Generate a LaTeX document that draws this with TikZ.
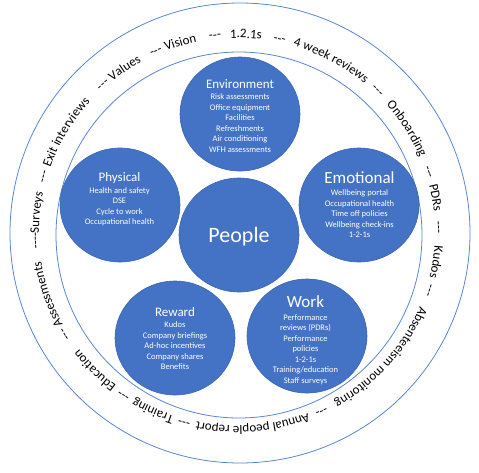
\documentclass[tikz,border=0pt]{standalone}
\usepackage{fontspec}
\setmainfont{Carlito}
\usetikzlibrary{shapes.geometric,decorations.text}

\definecolor{bubblue}{HTML}{4472C4}
\definecolor{bubedge}{HTML}{3B65B0}
\definecolor{ringblue}{HTML}{5A86D0}
\newcommand\ringfont{\fontsize{13}{13}\selectfont}
\newcommand\itemfont{\fontsize{8.5}{10.5}\selectfont}
\newcommand\hdfont[1]{\fontsize{#1}{#1}\selectfont}

\begin{document}
\begin{tikzpicture}[x=1pt, y=-1pt,
                    bub/.style={ellipse, fill=bubblue, draw=bubedge, line width=0.6pt,
                                minimum width=120pt, minimum height=114pt, inner sep=0pt},
                    bubtxt/.style={text=white, align=center, inner sep=0pt, font=\itemfont},
                    ring/.style={draw=ringblue, line width=0.8pt}]

% full original canvas
\useasboundingbox (0,0) rectangle (479,472);

% ---- the two rings ----
\draw[ring] (240,233) circle[radius=230];
\draw[ring] (239,235) circle[radius=183];

% ---- ring text, clockwise, one arc per phrase (angle = start) ----
\foreach \ang/\word in {-208.5/Assessments, -185/----Surveys, -165.5/---,
    -160.5/Exit interviews, -133.5/---, -129/Values, -115.5/---, -111/Vision,
    -98/---, -92/1.2.1s, -79.5/---, -73.5/4 week reviews, -47.5/---,
    -41/Onboarding, -19.5/---, -14/PDRs, -3/---, 4/Kudos, 15.5/---,
    22.5/Absenteeism monitoring, 63.5/---, 69/Annual people report, 103.5/---,
    108.5/Training, 122.5/---, 127.5/Education, 147/---}
  \path[decorate, decoration={text along path,
        text/.expanded={|\noexpand\ringfont|\word}}]
    (237,232) ++(\ang:198 and 194)
    arc[start angle=\ang, end angle=\ang+55, x radius=198, y radius=194];

% ---- bubbles ----
\node[bub] (env)  at (240,114) {};
\node[bub] (phys) at (120,205) {};
\node[bub] (emo)  at (359,205) {};
\node[bub] (ppl)  at (239,235) {};
\node[bub] (rew)  at (175,338) {};
\node[bub] (work) at (307,336) {};

% ---- bubble texts ----
\node[bubtxt] (envT) at (240,116) {\hdfont{13}Environment\\[1pt]\itemfont
  Risk assessments\\Office equipment\\Facilities\\Refreshments\\
  Air conditioning\\WFH assessments};
\node[bubtxt] (physT) at (119.5,199.5) {\hdfont{13}Physical\\[1pt]\itemfont
  Health and safety\\DSE\\Cycle to work\\Occupational health};
\node[bubtxt] (emoT) at (359.5,205) {\hdfont{17}Emotional\\[1.7pt]\itemfont
  Wellbeing portal\\Occupational health\\Time off policies\\
  Wellbeing check-ins\\1-2-1s};
\node[bubtxt, font=\hdfont{22}] (pplT) at (239,236.5) {People};
\node[bubtxt] (rewT) at (175,338.5) {\hdfont{13}Reward\\[1pt]\itemfont
  Kudos\\Company briefings\\Ad-hoc incentives\\Company shares\\Benefits};
\node[bubtxt] (workT) at (305.5,340) {\hdfont{17}Work\\[2.7pt]\itemfont
  Performance\\reviews (PDRs)\\Performance\\policies\\1-2-1s\\
  Training/education\\Staff surveys};

\end{tikzpicture}
\end{document}
